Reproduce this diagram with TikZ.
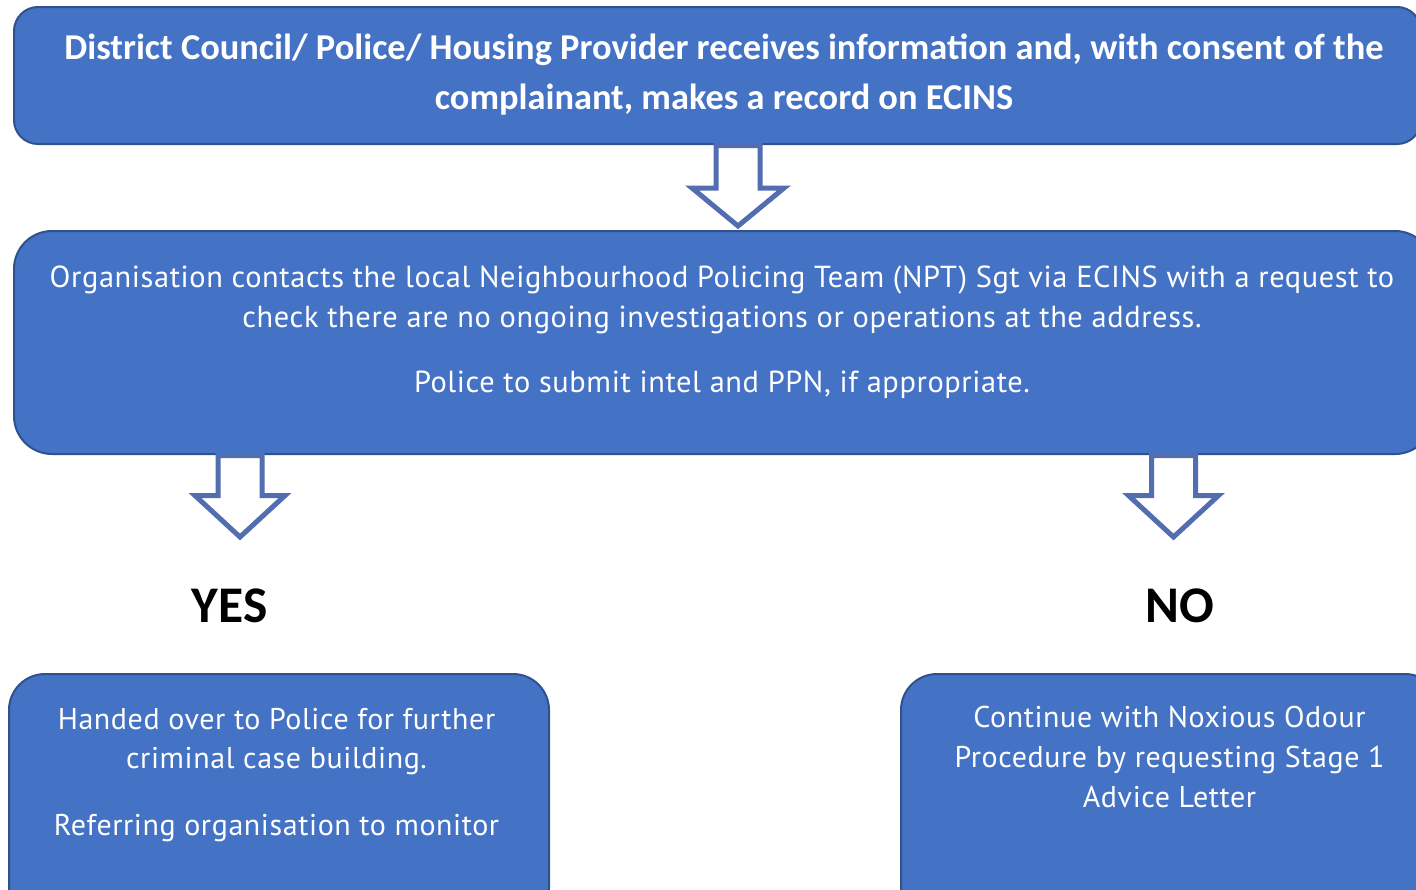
\documentclass[tikz,border=0pt]{standalone}
\usepackage{fontspec}
\setmainfont{PT Sans}[LetterSpace=2]
\newfontfamily\boldfam{Carlito}
\definecolor{boxfill}{HTML}{4472C4}
\definecolor{boxline}{HTML}{2F528F}
\definecolor{arrowline}{HTML}{536DB1}
\begin{document}
\begin{tikzpicture}[x=0.5pt,y=-0.5pt,
  box/.style={draw=boxline, line width=1pt, fill=boxfill, anchor=north west, inner sep=0pt},
  arrowsty/.style={draw=arrowline, line width=2.5pt, fill=white, line join=miter},
  boxtext/.style={text=white, align=center, anchor=base, inner sep=0pt},
  answer/.style={text=black, anchor=base, inner sep=0pt, font=\boldfam\bfseries\fontsize{25.7}{30}\selectfont}]
\useasboundingbox (0,0) rectangle (1416,889);
\fill[white] (0,0) rectangle (1416,889);
\clip (0,0) rectangle (1416,889);
% boxes
\node[box, rounded corners=12pt, minimum width=703.5pt, minimum height=68.5pt] (b1) at (13,6) {};
\node[box, rounded corners=19pt, minimum width=709.5pt, minimum height=111.5pt] (b2) at (13,230) {};
\node[box, rounded corners=18pt, minimum width=270pt, minimum height=125pt] (b3) at (8,673) {};
\node[box, rounded corners=18pt, minimum width=270pt, minimum height=125pt] (b4) at (900,673) {};
% texts (anchor base = baseline of last line)
\node[boxtext, font=\boldfam\bfseries\fontsize{18.2}{25}\selectfont] (t1) at (724,109)
  {District Council/ Police/ Housing Provider receives information and, with consent of the\\complainant, makes a record on ECINS};
\node[boxtext, font=\fontsize{15.2}{20}\selectfont] (t2) at (722,392)
  {Organisation contacts the local Neighbourhood Policing Team (NPT) Sgt via ECINS with a request to\\check there are no ongoing investigations or operations at the address.\\[12.5pt]Police to submit intel and PPN, if appropriate.};
\node[boxtext, font=\fontsize{15}{19.5}\selectfont] (t3) at (276.5,835)
  {Handed over to Police for further\\criminal case building.\\[14pt]Referring organisation to monitor};
\node[boxtext, font=\fontsize{15}{20}\selectfont] (t4) at (1169.5,807)
  {Continue with Noxious Odour\\Procedure by requesting Stage 1\\Advice Letter};
\node[answer] (yes) at (229.5,622) {YES};
\node[answer] (no) at (1180,622) {NO};
% block arrows
\coordinate (a1) at (738,145.5);
\coordinate (a2) at (240,455.5);
\coordinate (a3) at (1173.5,455.5);
\draw[arrowsty] ([xshift=-11pt]a1) -- ++(44,0) -- ++(0,42.5) -- ++(24,0) -- ++(-46,38) -- ++(-46,-38) -- ++(24,0) -- cycle;
\draw[arrowsty] ([xshift=-11pt]a2) -- ++(44,0) -- ++(0,40) -- ++(23,0) -- ++(-45,41.5) -- ++(-45,-41.5) -- ++(23,0) -- cycle;
\draw[arrowsty] ([xshift=-11pt]a3) -- ++(44,0) -- ++(0,40) -- ++(23,0) -- ++(-45,41.5) -- ++(-45,-41.5) -- ++(23,0) -- cycle;
\end{tikzpicture}
\end{document}
